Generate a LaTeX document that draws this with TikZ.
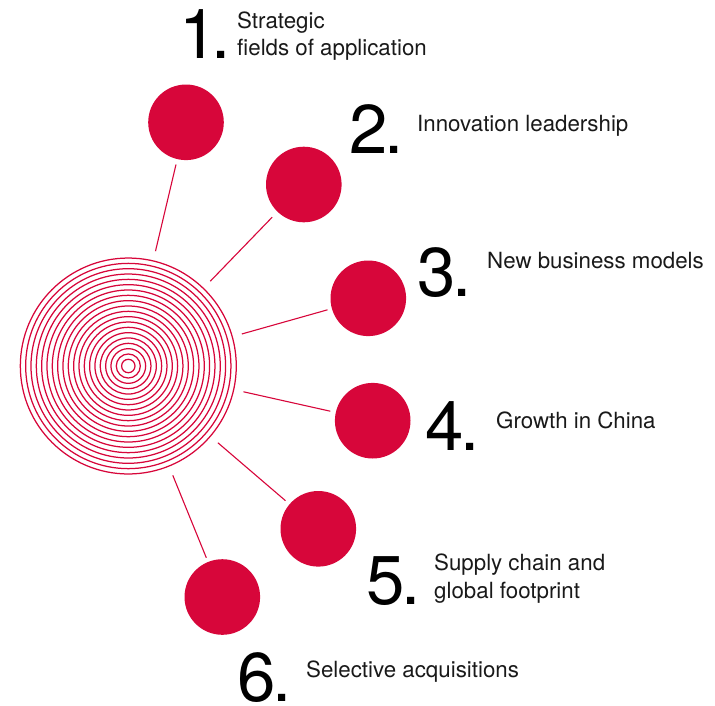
\documentclass[tikz,border=0pt]{standalone}
\usepackage{fontspec}
\setmainfont{TeX Gyre Heros}
\usetikzlibrary{calc}
\definecolor{brandred}{RGB}{215,6,58}
\definecolor{txt}{RGB}{25,25,25}
\tikzset{
  dot/.style={circle, fill=brandred, draw=none, minimum size=75.6pt, inner sep=0pt},
  ring/.style={draw=brandred, line width=1.25pt},
  link/.style={draw=brandred, line width=1.1pt},
  numlabel/.style={anchor=base west, inner sep=0pt, text=black, font=\fontsize{69}{69}\selectfont},
  itemlabel/.style={anchor=base west, inner sep=0pt, text=txt, font=\fontsize{22.3}{27}\selectfont}
}
\newcommand{\numdot}[1]{#1\kern-3pt.}
\begin{document}
\begin{tikzpicture}[x=1pt,y=-1pt]
\useasboundingbox (0,0) rectangle (715,705);
\coordinate (C) at (128.3,366);
\foreach \k in {0,...,19}{
  \draw[ring] (C) circle ({6.7+\k*5.33});
}
\node[dot] (c1) at (186,122.3) {};
\node[dot] (c2) at (303.8,184.5) {};
\node[dot] (c3) at (368.3,298.3) {};
\node[dot] (c4) at (372.7,420.7) {};
\node[dot] (c5) at (318.3,528.8) {};
\node[dot] (c6) at (222.3,597) {};
\foreach \c in {c1,c2,c3,c4,c5,c6}{
  \draw[link] ($(C)!118pt!(\c)$) -- ($(C)!207pt!(\c)$);
}
\node[numlabel] (n1) at (179,58) {\kern0pt1\kern-6pt.};
\node[itemlabel] (t1a) at (237,28.5) {Strategic};
\node[itemlabel] (t1b) at (237,55) {fields of application};
\node[numlabel] (n2) at (349,153) {\numdot{2}};
\node[itemlabel] (t2) at (417,131) {Innovation leadership};
\node[numlabel] (n3) at (417,296.5) {\numdot{3}};
\node[itemlabel] (t3) at (487,268) {New business models};
\node[numlabel] (n4) at (425,450) {\numdot{4}};
\node[itemlabel] (t4) at (496,428) {Growth in China};
\node[numlabel] (n5) at (366,604) {\numdot{5}};
\node[itemlabel] (t5a) at (434,570) {Supply chain and};
\node[itemlabel] (t5b) at (434,598) {global footprint};
\node[numlabel] (n6) at (237,701.5) {\numdot{6}};
\node[itemlabel] (t6) at (306,677) {Selective acquisitions};
\end{tikzpicture}
\end{document}
